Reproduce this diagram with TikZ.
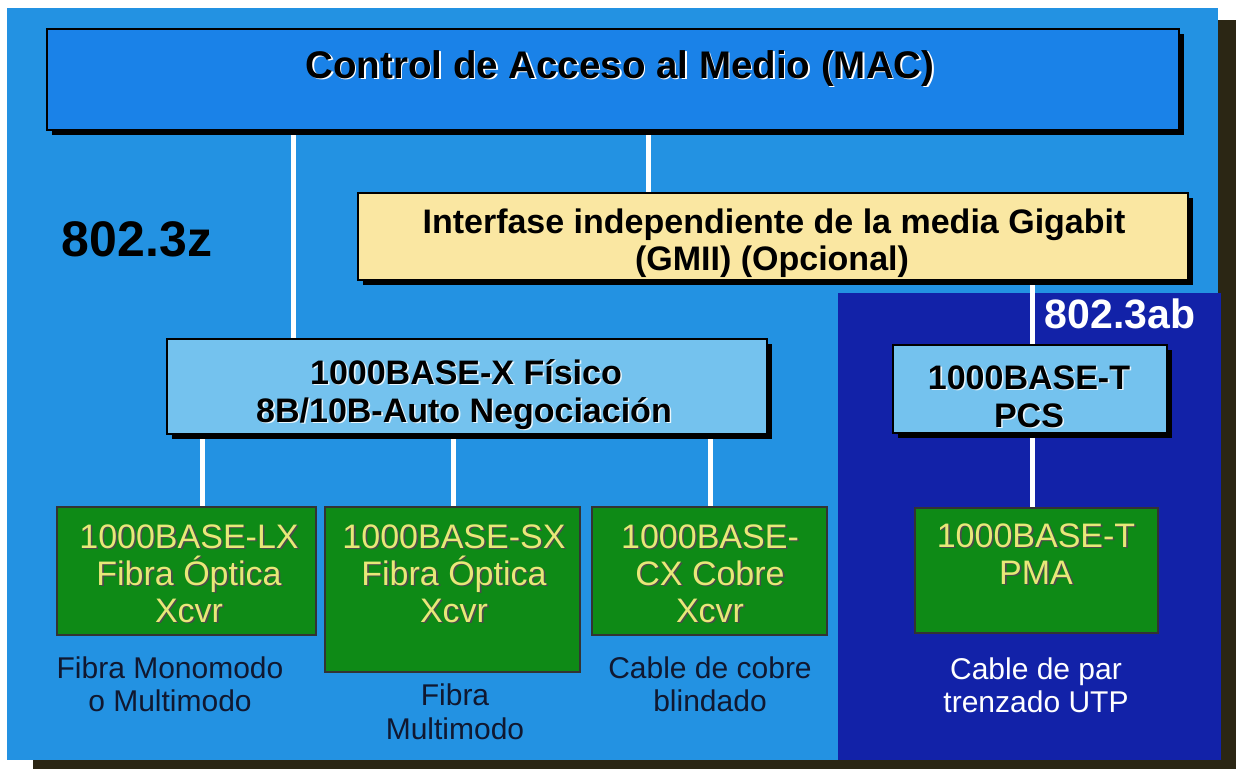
\documentclass[tikz,border=0pt]{standalone}
\usepackage{fontspec}
\setmainfont{Liberation Sans}
\usetikzlibrary{shadows}

\definecolor{panelblue}{HTML}{2392E2}
\definecolor{macblue}{HTML}{1A82E8}
\definecolor{phyblue}{HTML}{74C2EE}
\definecolor{gmiiyellow}{HTML}{FAE7A2}
\definecolor{xcvrgreen}{HTML}{0E8A16}
\definecolor{xcvrtext}{HTML}{E8E878}
\definecolor{navy}{HTML}{1222A8}
\definecolor{captiondark}{HTML}{101830}
\definecolor{edgeshade}{HTML}{2B2614}

\pgfdeclarelayer{back}
\pgfdeclarelayer{mid}
\pgfsetlayers{back,mid,main}

\tikzset{
  boxshadow/.style={drop shadow={shadow xshift=5pt, shadow yshift=-5pt, opacity=1, fill=black}},
  plainbox/.style={draw=black, line width=2pt, inner sep=0pt},
  macbox/.style={plainbox, fill=macblue, boxshadow},
  gmiibox/.style={plainbox, fill=gmiiyellow, boxshadow},
  phybox/.style={plainbox, fill=phyblue, boxshadow},
  xcvrbox/.style={draw=black!80, line width=1.6pt, fill=xcvrgreen, inner sep=0pt},
  wire/.style={draw=white, line width=5pt},
  txt/.style={anchor=base, inner sep=0pt},
  fTitle/.style={font=\fontsize{38.5}{41}\selectfont\bfseries},
  fBold/.style={font=\fontsize{34}{37}\selectfont\bfseries},
  fReg/.style={font=\fontsize{34}{37}\selectfont},
  fCap/.style={font=\fontsize{30}{33}\selectfont},
  fStdZ/.style={font=\fontsize{50}{52}\selectfont\bfseries},
  fStdAB/.style={font=\fontsize{41}{44}\selectfont\bfseries},
}

% text with an offset shadow copy underneath
% #1 name, #2 position, #3 font style, #4 text colour, #5 shadow colour, #6 text
\newcommand\shtext[6]{%
  \node[txt,#3,text=#5,xshift=1.6pt,yshift=-1.6pt] (#1-s) at #2 {#6};
  \node[txt,#3,text=#4] (#1) at #2 {#6};}

\begin{document}
\begin{tikzpicture}[x=1pt,y=-1pt]
\useasboundingbox (0,0) rectangle (1236,769);

% panels
\begin{pgfonlayer}{back}
  \fill[edgeshade] (1218,20) rectangle (1236,769);
  \fill[edgeshade] (33,760) rectangle (1236,769);
  \fill[panelblue] (7,8) rectangle (1218,760);
  \fill[navy] (838,293) rectangle (1221,760);
\end{pgfonlayer}

% boxes
\node[macbox,  minimum width=1132pt, minimum height=101pt] (mac)   at (613,79.5) {};
\node[gmiibox, minimum width=830pt,  minimum height=87pt]  (gmii)  at (773,236.5) {};
\node[phybox,  minimum width=600pt,  minimum height=95pt]  (xphys) at (467,386.5) {};
\node[phybox,  minimum width=274pt,  minimum height=88pt]  (pcs)   at (1030,389) {};
\node[xcvrbox, minimum width=259pt,  minimum height=128pt] (lx)    at (186.5,571) {};
\node[xcvrbox, minimum width=255pt,  minimum height=165pt] (sx)    at (452.5,589.5) {};
\node[xcvrbox, minimum width=235pt,  minimum height=128pt] (cx)    at (709.5,571) {};
\node[xcvrbox, minimum width=243pt,  minimum height=125pt] (pma)   at (1036.5,570.5) {};

% connector columns
\coordinate (cMX)  at (293,0);
\coordinate (cMG)  at (648,0);
\coordinate (cGT)  at (1032,0);
\coordinate (cLX)  at (202,0);
\coordinate (cSX)  at (453,0);
\coordinate (cCX)  at (710,0);

\begin{pgfonlayer}{mid}
  \draw[wire] (mac.south -| cMX) -- (xphys.north -| cMX);
  \draw[wire] (mac.south -| cMG) -- (gmii.north -| cMG);
  \draw[wire] (gmii.south -| cGT) -- (pcs.north -| cGT);
  \draw[wire] (pcs.south -| cGT) -- (pma.north -| cGT);
  \draw[wire] (xphys.south -| cLX) -- (lx.north -| cLX);
  \draw[wire] (xphys.south -| cSX) -- (sx.north -| cSX);
  \draw[wire] (xphys.south -| cCX) -- (cx.north -| cCX);
\end{pgfonlayer}

% titles
\shtext{tMac}{(620,78)}{fTitle}{black}{white}{Control de Acceso al Medio (MAC)}
\node[txt,fBold] (tG1) at (774,233) {Interfase independiente de la media Gigabit};
\node[txt,fBold] (tG2) at (772,270) {(GMII) (Opcional)};
\node[txt,fStdZ] (tZ) at (137,256) {802.3z};
\node[txt,fStdAB,text=white] (tAB) at (1120,328) {802.3ab};

\shtext{tX1}{(466,384)}{fBold}{black}{white!85!phyblue}{1000BASE-X Físico}
\shtext{tX2}{(464,422)}{fBold}{black}{white!85!phyblue}{8B/10B-Auto Negociación}
\shtext{tT1}{(1029,389)}{fBold}{black}{white!85!phyblue}{1000BASE-T}
\shtext{tT2}{(1029,427)}{fBold}{black}{white!85!phyblue}{PCS}

% transceiver texts
\shtext{tL1}{(189,548)}{fReg}{xcvrtext}{black!70}{1000BASE-LX}
\shtext{tL2}{(189,585)}{fReg}{xcvrtext}{black!70}{Fibra Óptica}
\shtext{tL3}{(189,622)}{fReg}{xcvrtext}{black!70}{Xcvr}
\shtext{tS1}{(454,548)}{fReg}{xcvrtext}{black!70}{1000BASE-SX}
\shtext{tS2}{(454,585)}{fReg}{xcvrtext}{black!70}{Fibra Óptica}
\shtext{tS3}{(454,622)}{fReg}{xcvrtext}{black!70}{Xcvr}
\shtext{tC1}{(710,548)}{fReg}{xcvrtext}{black!70}{1000BASE-}
\shtext{tC2}{(710,585)}{fReg}{xcvrtext}{black!70}{CX Cobre}
\shtext{tC3}{(710,622)}{fReg}{xcvrtext}{black!70}{Xcvr}
\shtext{tP1}{(1036,547)}{fReg}{xcvrtext}{black!70}{1000BASE-T}
\shtext{tP2}{(1036,584)}{fReg}{xcvrtext}{black!70}{PMA}

% media captions
\node[txt,fCap,text=captiondark] (m1a) at (170,678) {Fibra Monomodo};
\node[txt,fCap,text=captiondark] (m1b) at (170,711) {o Multimodo};
\node[txt,fCap,text=captiondark] (m2a) at (455,705) {Fibra};
\node[txt,fCap,text=captiondark] (m2b) at (455,739) {Multimodo};
\node[txt,fCap,text=captiondark] (m3a) at (710,678) {Cable de cobre};
\node[txt,fCap,text=captiondark] (m3b) at (710,711) {blindado};
\node[txt,fCap,text=white] (m4a) at (1036,679) {Cable de par};
\node[txt,fCap,text=white] (m4b) at (1036,712) {trenzado UTP};
\end{tikzpicture}
\end{document}
